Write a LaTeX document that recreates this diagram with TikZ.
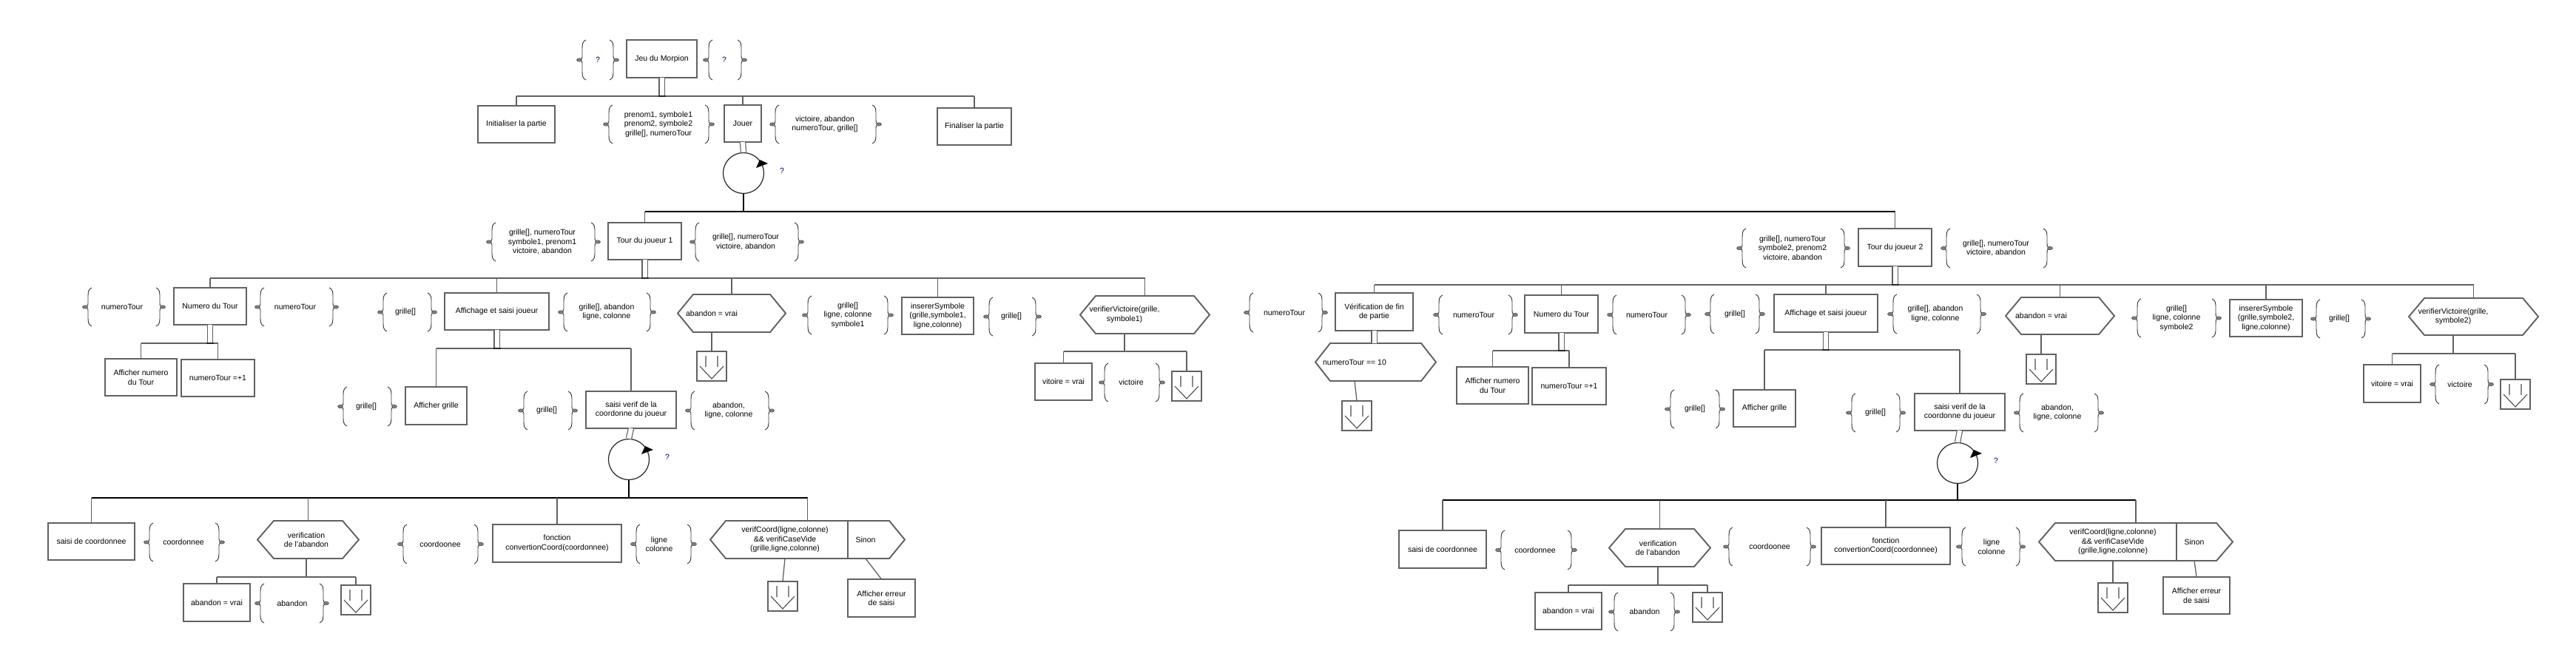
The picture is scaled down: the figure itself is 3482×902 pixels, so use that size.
\documentclass[tikz,border=0pt]{standalone}
\usepackage{fontspec}
\setmainfont{Liberation Sans}
\newcommand\mBX[6]{\node[bx,minimum width={#4-#2},minimum height={#5-#3}] (#1) at ({(#2+#4)/2},{(#3+#5)/2}) {#6};}
\newcommand\mHX[6]{\node[hexn,minimum width={#4-#2},minimum height={#5-#3}] (#1) at ({(#2+#4)/2},{(#3+#5)/2}) {};
 \draw[bxl] ([xshift=#6pt]#1.north west) -- ([xshift=-#6pt]#1.north east) -- (#1.east) -- ([xshift=-#6pt]#1.south east) -- ([xshift=#6pt]#1.south west) -- (#1.west) -- cycle;}
\newcommand\mPG[7]{%
 \pgfmathsetmacro\pgYm{(#4+#5)/2}%
 \draw[brc] ({#2+9},#4) .. controls ({#2+4},{#4+2}) and ({#2+4},{#4+6}) .. ({#2+4},{#4+14}) -- ({#2+4},{\pgYm-7}) .. controls ({#2+4},{\pgYm-2}) .. (#2,\pgYm) .. controls ({#2+4},{\pgYm+2}) .. ({#2+4},{\pgYm+7}) -- ({#2+4},{#5-14}) .. controls ({#2+4},{#5-6}) and ({#2+4},{#5-2}) .. ({#2+9},#5);
 \draw[brc] ({#3-9},#4) .. controls ({#3-4},{#4+2}) and ({#3-4},{#4+6}) .. ({#3-4},{#4+14}) -- ({#3-4},{\pgYm-7}) .. controls ({#3-4},{\pgYm-2}) .. (#3,\pgYm) .. controls ({#3-4},{\pgYm+2}) .. ({#3-4},{\pgYm+7}) -- ({#3-4},{#5-14}) .. controls ({#3-4},{#5-6}) and ({#3-4},{#5-2}) .. ({#3-9},#5);
 \filldraw[mkr] (#2,\pgYm) ellipse [x radius=3.5pt, y radius=2.2pt];
 \filldraw[mkr] (#3,\pgYm) ellipse [x radius=3.5pt, y radius=2.2pt];
 \node[ptxt] (#1) at (#6,\pgYm) {#7};}
\newcommand\mEX[3]{\node[bx,minimum width=40pt,minimum height=40pt] (#1) at ({#2+20},{#3+20}) {};
 \draw[exl] ([xshift=-8pt,yshift=14pt]#1.center) -- ([xshift=-8pt,yshift=-1pt]#1.center)
   ([xshift=8pt,yshift=14pt]#1.center) -- ([xshift=8pt,yshift=-1pt]#1.center)
   ([xshift=-16pt]#1.center) -- ([yshift=-17pt]#1.center) -- ([xshift=16pt]#1.center);}
\newcommand\mLP[4]{\node[lp] (#1) at (#2,#3) {};
 \fill[black] ([xshift=22pt,yshift=18pt]#1.center) -- ([xshift=33pt,yshift=13pt]#1.center) -- ([xshift=17pt,yshift=7pt]#1.center) -- cycle;
 \node[qm] (#4) at ({#2+52},{#3-3}) {?};}
\newcommand\mDB[2]{\draw[dbl] (#1.south) -- (#1.south |- #2);
 \path (#1.south |- #2) coordinate (sq#1);
 \draw[sqb] ([xshift=-5pt]sq#1) -- ([xshift=5pt]sq#1);}
\newcommand\mDN[2]{\draw[ln] (#1.north) -- (#1.north |- #2);}
\begin{document}
\begin{tikzpicture}[x=1pt,y=-1pt,
 every node/.style={font=\fontsize{10.5}{12.5}\selectfont},
 bx/.style={draw=black!62, line width=1.9pt, fill=white, align=center, inner sep=1pt, outer sep=0pt},
 hexn/.style={inner sep=0pt, outer sep=0pt},
 bxl/.style={draw=black!62, line width=1.9pt, line join=miter},
 ptxt/.style={align=center, inner sep=1pt},
 brc/.style={draw=black!80, line width=0.9pt},
 mkr/.style={fill=black!50, draw=black!75, line width=0.5pt},
 ln/.style={draw=black!62, line width=1.3pt},
 blk/.style={draw=black, line width=1.3pt},
 dbl/.style={draw=black!62, line width=1.2pt, double=white, double distance=6pt},
 sqb/.style={draw=black!85, line width=2.6pt},
 exl/.style={draw=black!70, line width=1.1pt},
 lp/.style={circle, draw=black!85, line width=1.2pt, minimum size=55pt, inner sep=0pt},
 qm/.style={text=blue!35!black, inner sep=1pt}]
\useasboundingbox (0,0) rectangle (3482,902);
\fill[white] (0,0) rectangle (3482,902);
% ---------- top ----------
\mBX{jeu}{847}{54}{942}{105}{Jeu du Morpion}
\mPG{pj1}{783}{833}{54}{108}{808}{\textcolor{blue!35!black}{?}}
\mPG{pj2}{954}{1006}{54}{108}{979}{\textcolor{blue!35!black}{?}}
\coordinate (b0) at (0,130);
\mBX{initp}{646}{143}{750}{193}{Initialiser la partie}
\mBX{jouer}{979}{142}{1029}{192}{Jouer}
\mBX{final}{1267}{146}{1367}{196}{Finaliser la partie}
\draw[ln] (initp.north |- b0) -- (final.north |- b0);
\mDN{initp}{b0}\mDN{jouer}{b0}\mDN{final}{b0}
\mDB{jeu}{b0}
\mPG{pjo1}{819}{962}{142}{194}{890}{prenom1, symbole1\\prenom2, symbole2\\grille[], numeroTour}
\mPG{pjo2}{1044}{1188}{142}{194}{1115}{victoire, abandon\\numeroTour, grille[]}
\mLP{L0}{1005}{234}{q0}
\draw[dbl] (jouer.south) -- (L0.north);
\coordinate (bT) at (0,286);
\draw[blk] (L0.south) -- (L0.south |- bT);
\mBX{tour1}{822}{301}{921}{351}{Tour du joueur 1}
\mBX{tour2}{2512}{309}{2611}{360}{Tour du joueur 2}
\draw[blk] (tour1.north |- bT) -- (tour2.north |- bT);
\mDN{tour1}{bT}\mDN{tour2}{bT}
% ---------- player 1 ----------
\mPG{pt1a}{661}{808}{301}{353}{733}{grille[], numeroTour\\symbole1, prenom1\\victoire, abandon}
\mPG{pt1b}{936}{1083}{301}{353}{1008}{grille[], numeroTour\\victoire, abandon}
\coordinate (b1) at (0,376);
\mBX{nt1}{235}{389}{333}{439}{Numero du Tour}
\mBX{af1}{601}{396}{742}{446}{Affichage et saisi joueur}
\mHX{ab1}{916}{398}{1062}{449}{21}
\node[ptxt] (ab1t) at (962,423.5) {abandon = vrai};
\mBX{is1}{1219}{402}{1316}{452}{insererSymbole\\(grille,symbole1,\\ligne,colonne)}
\mHX{vv1}{1460}{400}{1635}{451}{21}
\node[ptxt] (vv1t) at (1520,425.5) {verifierVictoire(grille,\\symbole1)};
\draw[ln] (nt1.north |- b1) -- (vv1.north |- b1);
\mDN{nt1}{b1}\mDN{af1}{b1}\mDN{ab1}{b1}\mDN{is1}{b1}\mDN{vv1}{b1}
\mDB{tour1}{b1}
\mPG{pn1a}{115}{220}{389}{441}{165}{numeroTour}
\mPG{pn1b}{348}{454}{389}{441}{399}{numeroTour}
\coordinate (b11) at (0,464);
\mBX{an1}{142}{485}{239}{535}{Afficher numero\\du Tour}
\mBX{in1}{245}{486}{344}{536}{numeroTour =+1}
\draw[ln] (an1.north |- b11) -- (in1.north |- b11);
\mDN{an1}{b11}\mDN{in1}{b11}
\mDB{nt1}{b11}
\mPG{pa1a}{514}{587}{396}{448}{548}{grille[]}
\mPG{pa1b}{758}{883}{396}{448}{820}{grille[], abandon\\ligne, colonne}
\coordinate (b12) at (0,471);
\mBX{ag1}{548}{523}{631}{574}{Afficher grille}
\mPG{pg1}{460}{533}{523}{576}{495}{grille[]}
\mBX{sv1}{792}{529}{914}{579}{saisi verif de la\\coordonne du joueur}
\mPG{ps1a}{704}{777}{529}{581}{739}{grille[]}
\mPG{ps1b}{930}{1043}{529}{581}{985}{abandon,\\ligne, colonne}
\draw[ln] (ag1.north |- b12) -- (sv1.north |- b12);
\mDN{ag1}{b12}\mDN{sv1}{b12}
\mDB{af1}{b12}
\mLP{L1}{850}{621}{q1}
\draw[dbl] (sv1.south) -- (L1.north);
\coordinate (b13) at (0,673);
\draw[blk] (L1.south) -- (L1.south |- b13);
\mBX{sc1}{65}{707}{182}{757}{saisi de coordonnee}
\mPG{pc1}{198}{300}{707}{759}{248}{coordonnee}
\mHX{va1}{348}{704}{485}{755}{22}
\node[ptxt] (va1t) at (414,729.5) {verification\\de l'abandon};
\mPG{pc1b}{541}{650}{709}{762}{595}{coordoonee}
\mBX{cv1}{666}{709}{840}{760}{fonction\\convertionCoord(coordonnee)}
\mPG{pl1}{856}{938}{709}{762}{891}{ligne\\colonne}
\mHX{vc1}{960}{704}{1223}{755}{21}
\draw[bxl] (1146,704) -- (1146,755);
\node[ptxt] (vc1t) at (1061,729.5) {verifCoord(ligne,colonne)\\\&\& verifiCaseVide\\(grille,ligne,colonne)};
\node[ptxt] (vc1s) at (1170,729.5) {Sinon};
\draw[blk] (sc1.north |- b13) -- (vc1.north |- b13);
\mDN{sc1}{b13}\mDN{va1}{b13}\mDN{cv1}{b13}\mDN{vc1}{b13}
\coordinate (b14) at (0,780);
\mBX{av1}{248}{789}{338}{840}{abandon = vrai}
\mPG{pv1}{348}{441}{789}{842}{395}{abandon}
\mEX{ev1}{461}{791}
\draw[ln] (va1t |- va1.south) -- (va1t |- b14);
\draw[ln] (av1.north |- b14) -- (ev1.north |- b14);
\mDN{av1}{b14}\mDN{ev1}{b14}
\mEX{ec1}{1038}{786}
\mBX{er1}{1146}{783}{1237}{834}{Afficher erreur\\de saisi}
\draw[ln] (vc1t |- vc1.south) -- (ec1.north);
\draw[ln] (vc1s |- vc1.south) -- (er1.north);
\mEX{ea1}{942}{475}
\draw[ln] (ab1t |- ab1.south) -- (ea1.north);
\mPG{pi1a}{1088}{1204}{400}{452}{1146}{grille[]\\ligne, colonne\\symbole1}
\mPG{pi1b}{1333}{1404}{402}{454}{1367}{grille[]}
\coordinate (b15) at (0,475);
\mBX{vt1}{1399}{491}{1476}{541}{vitoire = vrai}
\mPG{pw1}{1489}{1571}{491}{543}{1529}{victoire}
\mEX{ew1}{1584}{502}
\draw[ln] (vv1t |- vv1.south) -- (vv1t |- b15);
\draw[ln] (vt1.north |- b15) -- (ew1.north |- b15);
\mDN{vt1}{b15}\mDN{ew1}{b15}
% ---------- player 2 ----------
\mPG{pt2a}{2351}{2497}{309}{362}{2423}{grille[], numeroTour\\symbole2, prenom2\\victoire, abandon}
\mPG{pt2b}{2627}{2771}{309}{362}{2698}{grille[], numeroTour\\victoire, abandon}
\coordinate (b2) at (0,385);
\mBX{vf2}{1805}{396}{1910}{447}{Vérification de fin\\de partie}
\mPG{pf2}{1685}{1791}{396}{449}{1736}{numeroTour}
\mHX{fn2}{1778}{464}{1941}{515}{20}
\node[ptxt] (fn2t) at (1831,489.5) {numeroTour == 10};
\draw[dbl] (vf2.south) -- (vf2.south |- fn2.north);
\mEX{ef2}{1814}{542}
\draw[ln] (fn2t |- fn2.south) -- (ef2.north);
\mBX{nt2}{2061}{399}{2160}{450}{Numero du Tour}
\mPG{pn2a}{1941}{2048}{399}{452}{1992}{numeroTour}
\mPG{pn2b}{2176}{2282}{399}{452}{2226}{numeroTour}
\coordinate (b21) at (0,474);
\mBX{an2}{1969}{496}{2066}{546}{Afficher numero\\du Tour}
\mBX{in2}{2071}{497}{2171}{547}{numeroTour =+1}
\draw[ln] (an2.north |- b21) -- (in2.north |- b21);
\mDN{an2}{b21}\mDN{in2}{b21}
\mDB{nt2}{b21}
\mBX{af2}{2398}{398}{2538}{449}{Affichage et saisi joueur}
\mPG{pa2a}{2308}{2382}{398}{451}{2345}{grille[]}
\mPG{pa2b}{2555}{2681}{398}{451}{2616}{grille[], abandon\\ligne, colonne}
\coordinate (b22) at (0,473);
\mBX{ag2}{2343}{527}{2427}{577}{Afficher grille}
\mPG{pg2}{2254}{2328}{527}{579}{2291}{grille[]}
\mBX{sv2}{2588}{532}{2710}{582}{saisi verif de la\\coordonne du joueur}
\mPG{ps2a}{2499}{2572}{532}{584}{2535}{grille[]}
\mPG{ps2b}{2726}{2840}{532}{584}{2781}{abandon,\\ligne, colonne}
\draw[ln] (ag2.north |- b22) -- (sv2.north |- b22);
\mDN{ag2}{b22}\mDN{sv2}{b22}
\mDB{af2}{b22}
\mLP{L2}{2646}{626}{q2}
\draw[dbl] (sv2.south) -- (L2.north);
\coordinate (b23) at (0,676);
\draw[blk] (L2.south) -- (L2.south |- b23);
\mBX{sc2}{1891}{717}{2009}{768}{saisi de coordonnee}
\mPG{pc2}{2025}{2128}{717}{770}{2075}{coordonnee}
\mHX{va2}{2175}{715}{2312}{766}{22}
\node[ptxt] (va2t) at (2241,740.5) {verification\\de l'abandon};
\mPG{pc2b}{2333}{2451}{713}{765}{2392}{coordoonee}
\mBX{cv2}{2462}{713}{2636}{763}{fonction\\convertionCoord(coordonnee)}
\mPG{pl2}{2648}{2734}{713}{765}{2692}{ligne\\colonne}
\mHX{vc2}{2756}{707}{3018}{758}{22}
\draw[bxl] (2942,707) -- (2942,758);
\node[ptxt] (vc2t) at (2856,732.5) {verifCoord(ligne,colonne)\\\&\& verifiCaseVide\\(grille,ligne,colonne)};
\node[ptxt] (vc2s) at (2966,732.5) {Sinon};
\draw[blk] (sc2.north |- b23) -- (vc2.north |- b23);
\mDN{sc2}{b23}\mDN{va2}{b23}\mDN{cv2}{b23}\mDN{vc2}{b23}
\coordinate (b24) at (0,791);
\mBX{av2}{2075}{801}{2165}{851}{abandon = vrai}
\mPG{pv2}{2178}{2267}{801}{853}{2223}{abandon}
\mEX{ev2}{2288}{801}
\draw[ln] (va2t |- va2.south) -- (va2t |- b24);
\draw[ln] (av2.north |- b24) -- (ev2.north |- b24);
\mDN{av2}{b24}\mDN{ev2}{b24}
\mEX{ec2}{2836}{788}
\mBX{er2}{2924}{780}{3014}{830}{Afficher erreur\\de saisi}
\draw[ln] (vc2t |- vc2.south) -- (ec2.north);
\draw[ln] (vc2s |- vc2.south) -- (er2.north);
\mHX{ab2}{2711}{402}{2858}{452}{21}
\node[ptxt] (ab2t) at (2759,427) {abandon = vrai};
\mEX{ea2}{2739}{479}
\draw[ln] (ab2t |- ab2.south) -- (ea2.north);
\mPG{pi2a}{2885}{2999}{404}{456}{2942}{grille[]\\ligne, colonne\\symbole2}
\mBX{is2}{3014}{405}{3112}{455}{insererSymbole\\(grille,symbole2,\\ligne,colonne)}
\mPG{pi2b}{3127}{3201}{405}{457}{3162}{grille[]}
\mHX{vv2}{3256}{403}{3431}{453}{21}
\node[ptxt] (vv2t) at (3316,428) {verifierVictoire(grille,\\symbole2)};
\coordinate (b25) at (0,478);
\mBX{vt2}{3195}{493}{3272}{544}{vitoire = vrai}
\mPG{pw2}{3288}{3367}{493}{546}{3325}{victoire}
\mEX{ew2}{3380}{513}
\draw[ln] (vv2t |- vv2.south) -- (vv2t |- b25);
\draw[ln] (vt2.north |- b25) -- (ew2.north |- b25);
\mDN{vt2}{b25}\mDN{ew2}{b25}
\draw[ln] (vf2.north |- b2) -- (vv2.north |- b2);
\mDN{vf2}{b2}\mDN{nt2}{b2}\mDN{af2}{b2}\mDN{ab2}{b2}\mDN{is2}{b2}\mDN{vv2}{b2}
\mDB{tour2}{b2}
\end{tikzpicture}
\end{document}
